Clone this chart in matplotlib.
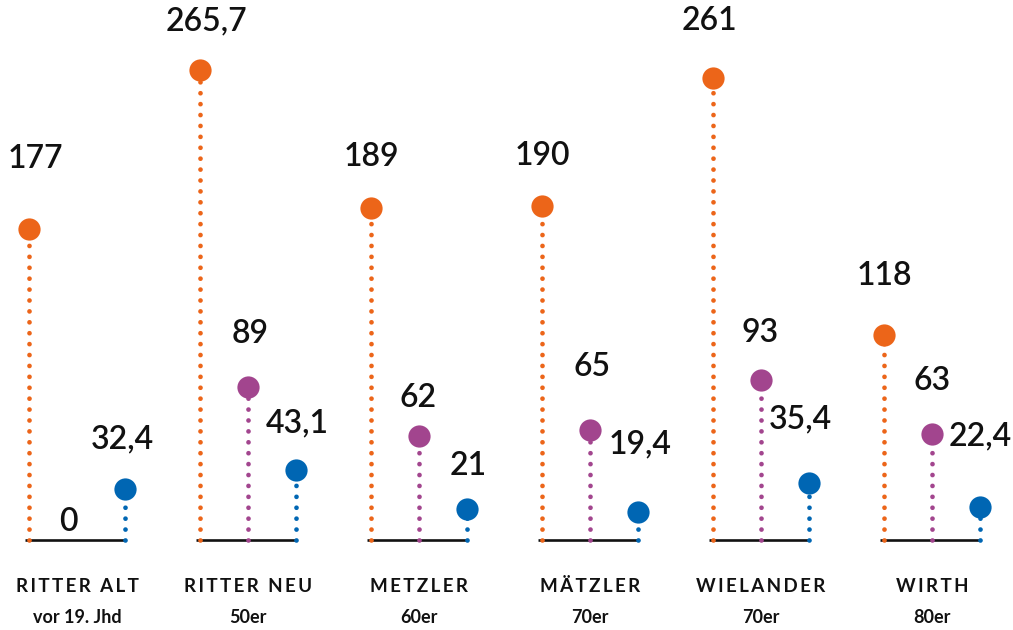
import matplotlib.pyplot as plt

# Gruppen und Werte
groups = ['RITTER ALT', 'RITTER NEU', 'METZLER', 'MÄTZLER', 'WIELANDER', 'WIRTH']
subtitles = ['vor 19. Jhd', '50er', '60er', '70er', '70er', '80er']
orange_vals = [177, 265.7, 189, 190, 261, 118]
purple_vals = [0, 89, 62, 65, 93, 63]
blue_vals = [32.4, 43.1, 21, 19.4, 35.4, 22.4]

orange_lbl = ['177', '265,7', '189', '190', '261', '118']
purple_lbl = ['0', '89', '62', '65', '93', '63']
blue_lbl = ['32,4', '43,1', '21', '19,4', '35,4', '22,4']

# label offsets (pixels) as seen in the original
orange_off = [(6, 70), (7, 48), (0, 51), (0, 50), (-3, 57), (0, 59)]
purple_off = [(-9, 25), (2, 53), (-1, 38), (2, 63), (-1, 47), (0, 53)]
blue_off = [(-3, 49), (1, 46), (1, 43), (2, 68), (-9, 64), (0, 70)]

ORANGE = '#EC6519'
PURPLE = '#A2458E'
BLUE = '#0066B3'
FONT = ['Lato', 'DejaVu Sans']
px = 0.72  # points per pixel at dpi 100

fig = plt.figure(figsize=(10.13, 6.3), dpi=100)
ax = fig.add_axes([0, 0, 1, 1])
ax.set_xlim(-0.450, 5.474)
ax.set_ylim(-46.2, 304.6)
ax.axis('off')

step = 0.281
base = 3.9

series = [
    (-step, orange_vals, orange_lbl, orange_off, ORANGE),
    (0, purple_vals, purple_lbl, purple_off, PURPLE),
    (step, blue_vals, blue_lbl, blue_off, BLUE),
]

for i in range(len(groups)):
    ax.plot([i - step - 0.02, i + step], [base, base], color='#111111', lw=1.9,
            solid_capstyle='butt', zorder=1)
    for dx, vals, lbls, offs, col in series:
        x = i + dx
        v = vals[i]
        if v > 0:
            ax.plot([x, x], [base, v], color=col, lw=3.4,
                    linestyle=(0, (0.01, 2.3)),
                    dash_capstyle='round', zorder=2)
            ax.plot(x, v, 'o', color=col, ms=16, mec='none', zorder=3)
        ox, oy = offs[i]
        ax.annotate(lbls[i], (x, v), xytext=(ox * px, oy * px),
                    textcoords='offset points', ha='center', va='center',
                    fontsize=23, fontweight='semibold', family=FONT,
                    color='#111111')
    spaced = '\u2009'.join(groups[i])
    ax.text(i, -21.8, spaced, ha='center', va='center', fontsize=13.5,
            fontweight='bold', family=FONT, color='#111111')
    ax.text(i, -39.5, subtitles[i], ha='center', va='center', fontsize=13,
            fontweight='bold', family=FONT, color='#111111')

fig.savefig('out.png', dpi=100)
